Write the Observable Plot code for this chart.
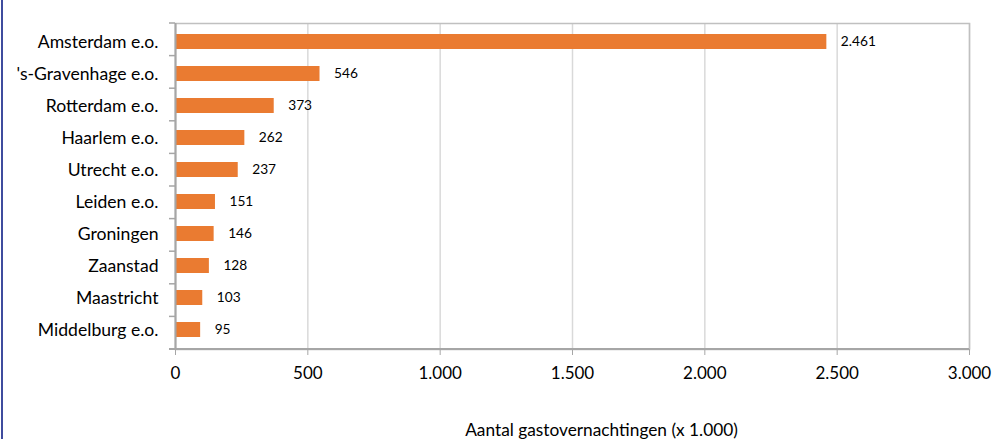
<!DOCTYPE html>
<html><head><meta charset="utf-8">
<script src="https://cdn.jsdelivr.net/npm/d3@7"></script>
<script src="https://cdn.jsdelivr.net/npm/@observablehq/plot@0.6"></script>
<style>
body{margin:0;background:#fff;}
#wrap{position:relative;width:994px;height:439px;overflow:hidden;background:#fff;}
#edge{position:absolute;left:1px;top:0;width:2px;height:439px;background:#3f4c9e;z-index:2;}
</style>
</head><body><div id="wrap"><div id="edge"></div></div>
<script>
const categories = ["Amsterdam e.o.", "'s-Gravenhage e.o.", "Rotterdam e.o.", "Haarlem e.o.", "Utrecht e.o.", "Leiden e.o.", "Groningen", "Zaanstad", "Maastricht", "Middelburg e.o."];
const values = [2461, 546, 373, 262, 237, 151, 146, 128, 103, 95];
const xTicks = [0, 500, 1000, 1500, 2000, 2500, 3000];
const axisTitle = "Aantal gastovernachtingen (x 1.000)";

const data = categories.map((c, i) => ({name: c, value: values[i]}));
const nl = d3.formatLocale({decimal: ",", thousands: ".", grouping: [3], currency: ["€", ""]});
const fmt = nl.format(",d");
const font = "Lato, sans-serif";

const plot = Plot.plot({
  width: 994, height: 439,
  marginLeft: 175, marginRight: 25, marginTop: 23, marginBottom: 90,
  style: {fontFamily: font, background: "transparent", color: "#000", overflow: "visible"},
  x: {domain: [0, 3000], ticks: xTicks},
  y: {domain: categories, paddingInner: 0.52, paddingOuter: 0.26},
  marks: [
    Plot.gridX(xTicks, {stroke: "#d9d9d9", strokeOpacity: 1, strokeWidth: 1.5}),
    Plot.frame({stroke: "#c0c0c0", strokeWidth: 1.5}),
    Plot.barX(data, {x: "value", y: "name", fill: "#EA7B31"}),
    Plot.text(data, {x: "value", y: "name", text: d => fmt(d.value), dx: 14, textAnchor: "start", fontSize: 13.7, fill: "#000"}),
    Plot.ruleX([0], {stroke: "#a6a6a6", strokeWidth: 2}),
    Plot.axisX(xTicks, {tickFormat: fmt, tickSize: 6, tickPadding: 11, fontSize: 17, stroke: "#a6a6a6", fill: "#000", label: null}),
    Plot.axisY({tickSize: 0, tickPadding: 17, fontSize: 17.6, fill: "#000", label: null}),
    Plot.text([axisTitle], {frameAnchor: "bottom", dx: 29, dy: 81, fontSize: 17.3, lineAnchor: "middle", fill: "#000"})
  ]
});

// axis decorations derived from Plot's own scales
const ys = plot.scale("y"), xs = plot.scale("x");
const svg = d3.select(plot);
const [r0, r1] = ys.range;
const n = ys.domain.length;
const step = (r1 - r0) / n;
const xa = xs.apply(xs.domain[0]), xb = xs.apply(xs.domain[1]);
const g = svg.append("g").attr("stroke", "#a6a6a6");
g.append("line").attr("x1", xa - 6).attr("x2", xb).attr("y1", r1).attr("y2", r1).attr("stroke-width", 2);
for (let i = 0; i < n; i++) {
  const y = r0 + i * step;
  g.append("line").attr("x1", xa - 6).attr("x2", xa).attr("y1", y).attr("y2", y).attr("stroke-width", 1.5);
}
const wrap = document.getElementById("wrap");
wrap.insertBefore(plot, wrap.firstChild);
plot.style.position = "absolute"; plot.style.left = "0"; plot.style.top = "0"; plot.style.zIndex = "1";
</script>
</body></html>
